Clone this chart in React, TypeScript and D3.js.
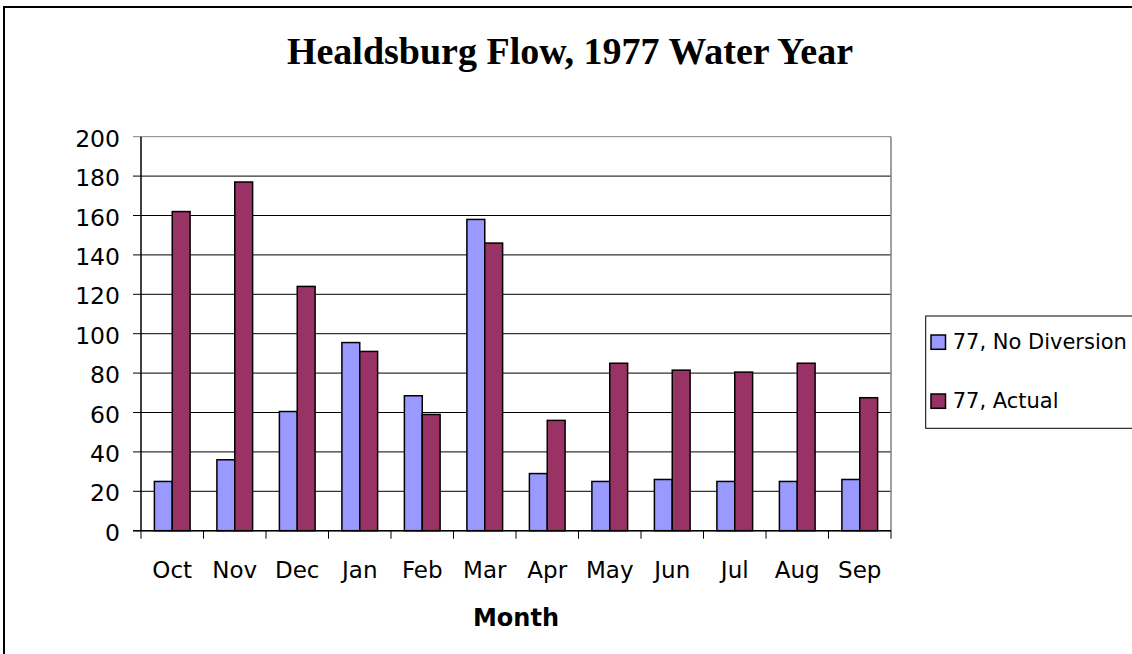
import React from 'react';
import * as d3 from 'd3';

const months = ['Oct', 'Nov', 'Dec', 'Jan', 'Feb', 'Mar', 'Apr', 'May', 'Jun', 'Jul', 'Aug', 'Sep'];
const seriesNames = ['77, No Diversion', '77, Actual'];
const noDiversion = [25, 36, 60.5, 95.5, 68.5, 158, 29, 25, 26, 25, 25, 26];
const actual = [162, 177, 124, 91, 59, 146, 56, 85, 81.5, 80.5, 85, 67.5];
const colors = ['#9999FF', '#993366'];

const W = 1132;
const H = 654;
const plot = { left: 141, right: 891, top: 136.7, bottom: 530.7 };
const labelFont = '"DejaVu Sans", Verdana, sans-serif';

export default function App() {
  const x0 = d3.scaleBand<string>().domain(months).range([plot.left, plot.right]);
  const x1 = d3
    .scaleBand<string>()
    .domain(seriesNames)
    .range([0, x0.bandwidth()])
    .paddingInner(0)
    .paddingOuter(0.75);
  const y = d3.scaleLinear().domain([0, 200]).range([plot.bottom, plot.top]);
  const yTicks = y.ticks(10);
  const values = [noDiversion, actual];

  return (
    <svg width={W} height={H} style={{ position: 'absolute', left: 0, top: 0, background: '#fff' }}>
      {/* chart frame, cut off at right and bottom */}
      <rect x={4} y={7} width={1300} height={800} fill="#fff" stroke="#000" strokeWidth={2} />

      <text
        x={570}
        y={64}
        textAnchor="middle"
        fontFamily='"Liberation Serif", "Times New Roman", serif'
        fontWeight="bold"
        fontSize={38}
      >
        Healdsburg Flow, 1977 Water Year
      </text>

      {/* gridlines */}
      {yTicks.map((t) => (
        <line
          key={'g' + t}
          x1={plot.left - 8}
          x2={plot.right}
          y1={y(t)}
          y2={y(t)}
          stroke={t === 200 ? '#808080' : '#000'}
          strokeWidth={1}
        />
      ))}
      <line x1={plot.right} x2={plot.right} y1={plot.top} y2={plot.bottom} stroke="#808080" strokeWidth={1.5} />

      {/* bars */}
      {months.map((m, i) => (
        <g key={m} transform={`translate(${x0(m)},0)`}>
          {seriesNames.map((s, j) => (
            <rect
              key={s}
              x={x1(s)}
              y={y(values[j][i])}
              width={x1.bandwidth()}
              height={y(0) - y(values[j][i])}
              fill={colors[j]}
              stroke="#000"
              strokeWidth={1.5}
            />
          ))}
        </g>
      ))}

      {/* axes */}
      <line x1={plot.left} x2={plot.left} y1={plot.top} y2={plot.bottom} stroke="#000" strokeWidth={1.5} />
      <line x1={plot.left - 8} x2={plot.right} y1={plot.bottom} y2={plot.bottom} stroke="#000" strokeWidth={1.5} />
      {months.concat(['end']).map((m, i) => {
        const xx = plot.left + i * x0.step();
        return <line key={'t' + i} x1={xx} x2={xx} y1={plot.bottom} y2={plot.bottom + 8} stroke="#000" strokeWidth={1} />;
      })}

      {yTicks.map((t) => (
        <text key={'l' + t} x={120} y={y(t) + 10} textAnchor="end" fontFamily={labelFont} fontSize={23.5}>
          {t}
        </text>
      ))}
      {months.map((m) => (
        <text
          key={'x' + m}
          x={(x0(m) as number) + x0.bandwidth() / 2}
          y={578.3}
          textAnchor="middle"
          fontFamily={labelFont}
          fontSize={23}
        >
          {m}
        </text>
      ))}
      <text x={516} y={626} textAnchor="middle" fontFamily={labelFont} fontWeight="bold" fontSize={24}>
        Month
      </text>

      {/* legend */}
      <rect x={925.7} y={316} width={220} height={112.3} fill="#fff" stroke="#000" strokeWidth={1} />
      {seriesNames.map((s, j) => (
        <g key={'lg' + s} transform={`translate(0,${j * 59})`}>
          <rect x={931} y={335} width={14.5} height={14.3} fill={colors[j]} stroke="#000" strokeWidth={1.5} />
          <text x={952.7} y={349.3} fontFamily={labelFont} fontSize={21}>
            {s}
          </text>
        </g>
      ))}
    </svg>
  );
}
